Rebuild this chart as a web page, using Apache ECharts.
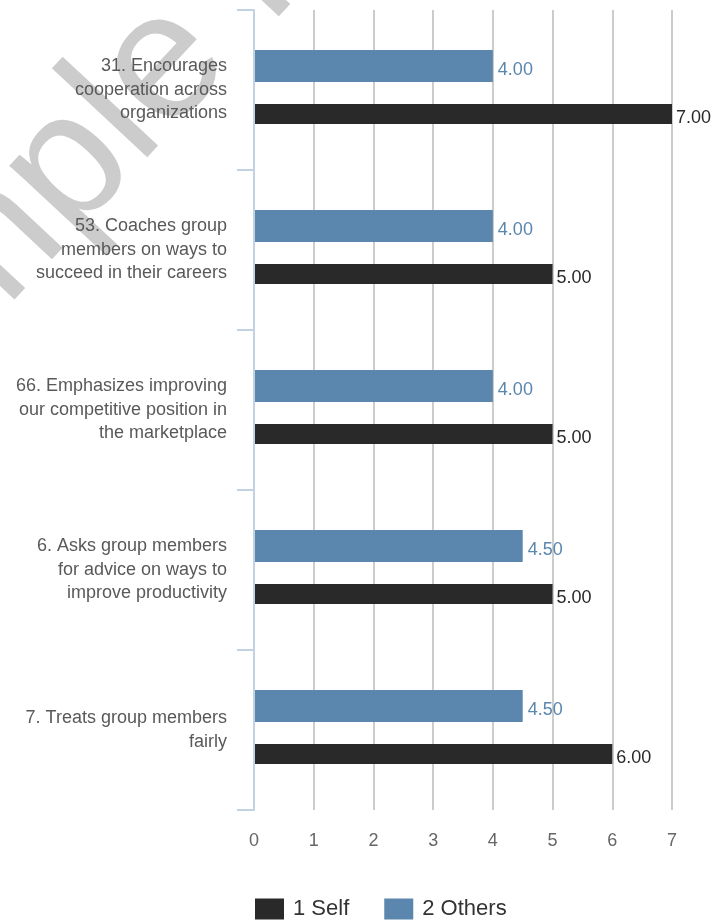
<!DOCTYPE html>
<html>
<head>
<meta charset="utf-8">
<script src="https://cdn.jsdelivr.net/npm/echarts@6/dist/echarts.min.js"></script>
<style>
  html, body { margin: 0; padding: 0; background: #ffffff; }
  #chart { width: 727px; height: 922px; }
</style>
</head>
<body>
<div id="chart"></div>
<script>
// Survey items, listed top to bottom
const categories = [
  '31. Encourages\ncooperation across\norganizations',
  '53. Coaches group\nmembers on ways to\nsucceed in their careers',
  '66. Emphasizes improving\nour competitive position in\nthe marketplace',
  '6. Asks group members\nfor advice on ways to\nimprove productivity',
  '7. Treats group members\nfairly'
];
// Average ratings per rater group
const selfScores = [7.00, 5.00, 5.00, 5.00, 6.00];
const othersScores = [4.00, 4.00, 4.00, 4.50, 4.50];
const seriesNames = ['1 Self', '2 Others'];
// Rating scale ticks
const scaleTicks = [0, 1, 2, 3, 4, 5, 6, 7];

const FONT = 'Liberation Sans, Arial, sans-serif';
const SELF_COLOR = '#292929';
const OTHERS_COLOR = '#5b86ad';
const AXIS_COLOR = '#c3d2e3';

const scaleMin = scaleTicks[0];
const scaleMax = scaleTicks[scaleTicks.length - 1];

const chart = echarts.init(document.getElementById('chart'), null, { renderer: 'canvas' });

chart.setOption({
  backgroundColor: '#ffffff',
  animation: false,
  graphic: [{
    type: 'text',
    z: -10,
    silent: true,
    x: -218,
    y: 476,
    rotation: 47 * Math.PI / 180,
    style: {
      text: 'Sample Report',
      font: '180px ' + FONT,
      fill: '#cccccc',
      textAlign: 'left',
      textVerticalAlign: 'middle'
    }
  }],
  legend: {
    data: seriesNames,
    left: 250,
    top: 893,
    icon: 'rect',
    itemWidth: 29,
    itemHeight: 21,
    itemGap: 35,
    textStyle: { fontFamily: FONT, fontSize: 22, color: '#333333', padding: [0, 0, 0, 4] }
  },
  // grid 0 carries the visible axes and gridlines, grid 1 carries the bars
  grid: [
    { left: 254, right: 55, top: 10, bottom: 112, containLabel: false },
    { left: 254, right: 55, top: 7, bottom: 115, containLabel: false }
  ],
  xAxis: [
    {
      type: 'value', gridIndex: 0,
      min: scaleMin, max: scaleMax, interval: 1,
      axisLine: { show: false },
      axisTick: { show: false },
      splitLine: { show: true, lineStyle: { color: '#cccccc', width: 2 } },
      axisLabel: { fontFamily: FONT, fontSize: 18, color: '#666666', margin: 22 }
    },
    {
      type: 'value', gridIndex: 1,
      min: scaleMin, max: scaleMax, interval: 1,
      show: false
    }
  ],
  yAxis: [
    {
      type: 'category', gridIndex: 0,
      inverse: true,
      data: categories,
      axisLine: { show: true, lineStyle: { color: AXIS_COLOR, width: 2 } },
      axisTick: { show: true, length: 17, lineStyle: { color: AXIS_COLOR, width: 2 } },
      splitLine: { show: false },
      axisLabel: {
        fontFamily: FONT, fontSize: 18, color: '#595959', lineHeight: 23.5,
        margin: 27, align: 'right'
      },
      z: 5
    },
    {
      type: 'category', gridIndex: 1,
      inverse: true,
      data: categories,
      show: false
    }
  ],
  series: [
    {
      name: seriesNames[1],
      type: 'bar',
      xAxisIndex: 1, yAxisIndex: 1,
      data: othersScores,
      barWidth: 32,
      barGap: '68.75%',
      itemStyle: { color: OTHERS_COLOR },
      label: {
        show: true, position: 'right', distance: 5,
        formatter: p => p.value.toFixed(2),
        fontFamily: FONT, fontSize: 18, color: OTHERS_COLOR, offset: [0, 4]
      }
    },
    {
      name: seriesNames[0],
      type: 'bar',
      xAxisIndex: 1, yAxisIndex: 1,
      data: selfScores,
      barWidth: 20,
      barGap: '68.75%',
      itemStyle: { color: SELF_COLOR },
      label: {
        show: true, position: 'right', distance: 4,
        formatter: p => p.value.toFixed(2),
        fontFamily: FONT, fontSize: 18, color: SELF_COLOR, offset: [0, 4]
      }
    }
  ]
});
</script>
</body>
</html>
